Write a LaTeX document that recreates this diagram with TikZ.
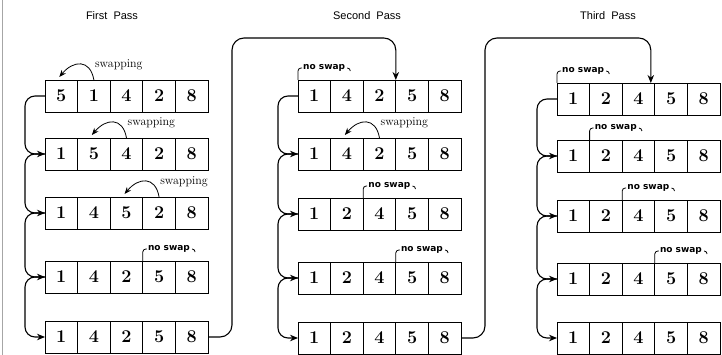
\documentclass[tikz,border=0pt]{standalone}
\usepackage{fontspec}
\newfontfamily\titlefont{Liberation Sans}
\newfontfamily\nsfont{DejaVu Sans}
\usetikzlibrary{arrows.meta,calc}
\tikzset{
  cell/.style={draw, line width=0.8pt, minimum width=32.6pt, minimum height=32pt,
    inner sep=0pt, outer sep=0pt, anchor=north west, font=\bfseries\fontsize{18}{18}\selectfont},
  conn/.style={line width=1.1pt, -{Stealth[length=8pt,width=6.5pt]}, rounded corners=10pt},
  passconn/.style={conn, rounded corners=12pt},
  swaparr/.style={line width=0.8pt, -{Stealth[length=7pt,width=5.5pt]}},
  swaptext/.style={font=\fontsize{12}{12}\selectfont, anchor=west, inner sep=1pt},
  nstext/.style={font=\nsfont\bfseries\fontsize{9}{9}\selectfont, anchor=west, inner sep=1pt},
  hookline/.style={line width=0.8pt, rounded corners=3pt},
  titlestyle/.style={font=\titlefont\fontsize{11}{11}\selectfont}
}
\newcommand\mkrow[8]{%
  \node[cell] (#1c1) at (#2pt,-#3pt) {#4};
  \node[cell] (#1c2) at ([xshift=32.6pt]#1c1.north west) {#5};
  \node[cell] (#1c3) at ([xshift=32.6pt]#1c2.north west) {#6};
  \node[cell] (#1c4) at ([xshift=32.6pt]#1c3.north west) {#7};
  \node[cell] (#1c5) at ([xshift=32.6pt]#1c4.north west) {#8};
}
\newcommand\swapmark[3]{%
  \draw[swaparr] (#1.north) to[out=100,in=50,looseness=1.6] ([xshift=-2pt,yshift=3pt]#2.north);
  \node[swaptext] (#3) at ([yshift=15pt]#1.north) {swapping};
}
\newcommand\noswap[2]{%
  \node[nstext] (#2) at ([xshift=4pt,yshift=12pt]#1) {no swap};
  \draw[hookline] (#1) |- (#2.west);
  \draw[hookline] ([xshift=1pt]#2.east) -- ++(3pt,0) -- ++(0,-3pt);
}
\newcommand\downconn[2]{%
  \draw[conn] (#1c1.west) -- ++(-20pt,0) |- (#2c1.west);
}
\begin{document}
\begin{tikzpicture}
\useasboundingbox (0,0) rectangle (722pt,-355pt);
\draw[gray!70, line width=0.8pt] (2.5pt,0pt) -- (2.5pt,-355pt);

\node[titlestyle] (t1) at (112pt,-16pt) {First\ \ Pass};
\node[titlestyle] (t2) at (367pt,-16pt) {Second\ \ Pass};
\node[titlestyle] (t3) at (608pt,-16pt) {Third\ \ Pass};

% First pass
\mkrow{pa}{45}{80}{5}{1}{4}{2}{8}
\mkrow{pb}{45}{138}{1}{5}{4}{2}{8}
\mkrow{pc}{45}{197}{1}{4}{5}{2}{8}
\mkrow{pd}{45}{261}{1}{4}{2}{5}{8}
\mkrow{pe}{45}{321}{1}{4}{2}{5}{8}
% Second pass
\mkrow{qa}{298}{80}{1}{4}{2}{5}{8}
\mkrow{qb}{298}{138}{1}{4}{2}{5}{8}
\mkrow{qc}{298}{198}{1}{2}{4}{5}{8}
\mkrow{qd}{298}{262}{1}{2}{4}{5}{8}
\mkrow{qe}{298}{322}{1}{2}{4}{5}{8}
% Third pass
\mkrow{ra}{557}{83}{1}{2}{4}{5}{8}
\mkrow{rb}{557}{140}{1}{2}{4}{5}{8}
\mkrow{rc}{557}{200}{1}{2}{4}{5}{8}
\mkrow{rd}{557}{263}{1}{2}{4}{5}{8}
\mkrow{re}{557}{322}{1}{2}{4}{5}{8}

% within-pass connectors
\downconn{pa}{pb}\downconn{pb}{pc}\downconn{pc}{pd}\downconn{pd}{pe}
\downconn{qa}{qb}\downconn{qb}{qc}\downconn{qc}{qd}\downconn{qd}{qe}
\downconn{ra}{rb}\downconn{rb}{rc}\downconn{rc}{rd}\downconn{rd}{re}

% between passes
\draw[passconn] (pec5.east) -- ++(24pt,0) |- ([yshift=42pt]qac3.north east) -- (qac3.north east);
\draw[passconn] (qec5.east) -- ++(24pt,0) |- ([xshift=-4pt,yshift=45pt]rac3.north east) -- ([xshift=-4pt]rac3.north east);

% swap labels
\swapmark{pac2}{pac1}{sw1}
\swapmark{pbc3}{pbc2}{sw2}
\swapmark{pcc4}{pcc3}{sw3}
\swapmark{qbc3}{qbc2}{sw4}

% no swap labels
\noswap{pdc3.north east}{ns1}
\noswap{qac1.north west}{ns2}
\noswap{qcc2.north east}{ns3}
\noswap{qdc3.north east}{ns4}
\noswap{rac1.north west}{ns5}
\noswap{rbc1.north east}{ns6}
\noswap{rcc2.north east}{ns7}
\noswap{rdc3.north east}{ns8}
\end{tikzpicture}
\end{document}
